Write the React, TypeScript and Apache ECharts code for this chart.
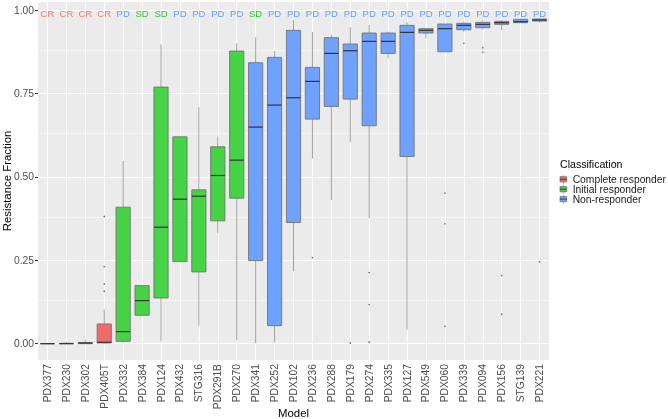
import React, { useEffect, useRef } from "react";
import * as echarts from "echarts";

const categories = [
  "PDX377", "PDX230", "PDX302", "PDX405T", "PDX332", "PDX384", "PDX124", "PDX432", "STG316",
  "PDX291B", "PDX270", "PDX341", "PDX252", "PDX102", "PDX236", "PDX288", "PDX179", "PDX274",
  "PDX335", "PDX127", "PDX549", "PDX060", "PDX339", "PDX094", "PDX156", "STG139", "PDX221",
];

const classification = [
  "Complete responder", "Complete responder", "Complete responder", "Complete responder",
  "Initial responder", "Initial responder", "Initial responder", "Initial responder",
  "Initial responder", "Initial responder", "Initial responder",
  "Non-responder", "Non-responder", "Non-responder", "Non-responder", "Non-responder",
  "Non-responder", "Non-responder", "Non-responder", "Non-responder", "Non-responder",
  "Non-responder", "Non-responder", "Non-responder", "Non-responder", "Non-responder",
  "Non-responder",
];

const responseLabels = [
  "CR", "CR", "CR", "CR", "PD", "SD", "SD", "PD", "PD", "PD", "PD", "SD", "PD", "PD",
  "PD", "PD", "PD", "PD", "PD", "PD", "PD", "PD", "PD", "PD", "PD", "PD", "PD",
];

const whiskerLow = [
  0, 0, 0, 0, 0.003, 0.085, 0.007, 0.246, 0.054, 0.331, 0.01, 0.002, 0.004, 0.217,
  0.555, 0.431, 0.604, 0.376, 0.855, 0.042, 0.915, 0.875, 0.935, 0.942, 0.94, 0.962, 0.962,
];
const q1 = [
  0, 0, 0, 0.002, 0.007, 0.085, 0.137, 0.246, 0.215, 0.368, 0.436, 0.249, 0.054, 0.363,
  0.673, 0.711, 0.733, 0.653, 0.87, 0.561, 0.931, 0.875, 0.941, 0.947, 0.957, 0.962, 0.967,
];
const median = [
  0, 0, 0.002, 0.004, 0.036, 0.129, 0.349, 0.433, 0.442, 0.504, 0.55, 0.649, 0.715, 0.737,
  0.786, 0.87, 0.878, 0.906, 0.906, 0.933, 0.939, 0.944, 0.954, 0.957, 0.962, 0.965, 0.97,
];
const q3 = [
  0, 0.001, 0.003, 0.059, 0.409, 0.174, 0.769, 0.62, 0.461, 0.59, 0.877, 0.842, 0.858, 0.939,
  0.828, 0.917, 0.898, 0.931, 0.931, 0.954, 0.944, 0.958, 0.96, 0.963, 0.966, 0.972, 0.973,
];
const whiskerHigh = [
  0, 0.006, 0.012, 0.102, 0.548, 0.174, 0.897, 0.62, 0.709, 0.621, 0.9, 0.918, 0.877, 0.97,
  0.934, 0.926, 0.948, 0.955, 0.935, 0.964, 0.946, 0.958, 0.965, 0.968, 0.97, 0.974, 0.975,
];

const outlierModels = [
  "PDX405T", "PDX405T", "PDX405T", "PDX405T", "PDX236", "PDX179", "PDX274", "PDX274", "PDX274",
  "PDX060", "PDX060", "PDX060", "PDX339", "PDX094", "PDX094", "PDX156", "PDX156", "PDX221",
];
const outlierValues = [
  0.157, 0.179, 0.231, 0.381, 0.258, 0.002, 0.213, 0.117, 0.005,
  0.451, 0.359, 0.052, 0.9, 0.887, 0.873, 0.204, 0.088, 0.245,
];

const yTicks = [0, 0.25, 0.5, 0.75, 1];
const yMinorGrid = [0.125, 0.375, 0.625, 0.875];

const classNames = ["Complete responder", "Initial responder", "Non-responder"];
const classColors: Record<string, string> = {
  "Complete responder": "#EF6B6B",
  "Initial responder": "#46D346",
  "Non-responder": "#6FA1FF",
};
const labelColors: Record<string, string> = {
  CR: "#F8766D",
  SD: "#2FC52F",
  PD: "#619CFF",
};

const FONT = "'Liberation Sans', Arial, sans-serif";
const LABEL_Y = 0.99;

export default function App() {
  const ref = useRef<HTMLDivElement>(null);

  useEffect(() => {
    if (!ref.current) return;
    const chart = echarts.init(ref.current, undefined, { renderer: "svg" });

    const boxData = categories.map((_, i) => [
      i, whiskerLow[i], q1[i], median[i], q3[i], whiskerHigh[i],
    ]);
    const labelData = categories.map((_, i) => [i, LABEL_Y]);
    const outlierData = outlierModels.map((m, k) => [categories.indexOf(m), outlierValues[k]]);

    const gridLines = [
      ...yTicks.map((v) => ({ yAxis: v, lineStyle: { width: 1.1 } })),
      ...yMinorGrid.map((v) => ({ yAxis: v, lineStyle: { width: 0.55 } })),
      ...categories.map((_, i) => ({ xAxis: i, lineStyle: { width: 1.1 } })),
    ];

    const legendItems: any[] = [];
    classNames.forEach((name, k) => {
      const cy = 179.3 + k * 9.9;
      legendItems.push(
        {
          type: "line",
          shape: { x1: 563.3, y1: cy - 4.5, x2: 563.3, y2: cy + 4.5 },
          style: { stroke: "#9c9c9c", lineWidth: 0.8 },
        },
        {
          type: "rect",
          shape: { x: 560, y: cy - 2.6, width: 6.7, height: 5.2 },
          style: { fill: classColors[name], stroke: "#6a6a6a", lineWidth: 0.7 },
        },
        {
          type: "line",
          shape: { x1: 560, y1: cy, x2: 566.7, y2: cy },
          style: { stroke: "#333333", lineWidth: 0.9 },
        },
        {
          type: "text",
          style: {
            text: name, x: 572.7, y: cy, fill: "#1a1a1a",
            font: `10.3px ${FONT}`, textAlign: "left", textVerticalAlign: "middle",
          },
        }
      );
    });

    chart.setOption({
      animation: false,
      grid: {
        left: 38, right: 119, top: 2, bottom: 59,
        show: true, backgroundColor: "#EBEBEB", borderWidth: 0, containLabel: false,
        outerBoundsMode: "none",
      },
      xAxis: {
        type: "category",
        data: categories,
        boundaryGap: true,
        axisLine: { show: false },
        axisTick: { show: true, alignWithLabel: true, length: 3, lineStyle: { color: "#333333" } },
        axisLabel: {
          rotate: 90, interval: 0, fontSize: 10.3, color: "#4D4D4D", margin: 4, fontFamily: FONT,
        },
        splitLine: { show: false },
        name: "Model",
        nameLocation: "middle",
        nameGap: 47,
        nameMoveOverlap: false,
        nameTextStyle: { fontSize: 11.4, color: "#000000", fontFamily: FONT },
      },
      yAxis: {
        type: "value",
        min: -0.049,
        max: 1.024,
        axisLine: { show: false },
        axisTick: { show: true, length: 3, lineStyle: { color: "#333333" }, customValues: yTicks },
        axisLabel: {
          customValues: yTicks,
          formatter: (v: number) => v.toFixed(2),
          fontSize: 10.3, color: "#4D4D4D", margin: 4, fontFamily: FONT,
        },
        splitLine: { show: false },
        minorSplitLine: { show: false },
        name: "Resistance Fraction",
        nameLocation: "middle",
        nameRotate: 90,
        nameGap: 26,
        nameMoveOverlap: false,
        nameTextStyle: { fontSize: 11.4, color: "#000000", fontFamily: FONT },
      },
      graphic: [
        {
          type: "text",
          style: {
            text: "Classification", x: 560, y: 164, fill: "#000000",
            font: `10.6px ${FONT}`, textAlign: "left", textVerticalAlign: "middle",
          },
        },
        ...legendItems,
      ],
      series: [
        {
          type: "custom",
          name: "boxes",
          z: 10,
          silent: true,
          encode: { x: 0, y: [1, 2, 3, 4, 5] },
          data: boxData,
          renderItem: (params: any, api: any) => {
            const i = api.value(0);
            const xc = api.coord([i, 0])[0];
            const yLow = api.coord([i, api.value(1)])[1];
            const yQ1 = api.coord([i, api.value(2)])[1];
            const yMed = api.coord([i, api.value(3)])[1];
            const yQ3 = api.coord([i, api.value(4)])[1];
            const yHigh = api.coord([i, api.value(5)])[1];
            const w = api.size([1, 0])[0] * 0.75;
            const fill = classColors[classification[i]];
            return {
              type: "group",
              children: [
                {
                  type: "line",
                  shape: { x1: xc, y1: yHigh, x2: xc, y2: yQ3 },
                  style: { stroke: "#a0a0a0", lineWidth: 1 },
                },
                {
                  type: "line",
                  shape: { x1: xc, y1: yQ1, x2: xc, y2: yLow },
                  style: { stroke: "#a0a0a0", lineWidth: 1 },
                },
                {
                  type: "rect",
                  shape: { x: xc - w / 2, y: yQ3, width: w, height: Math.max(yQ1 - yQ3, 0) },
                  style: { fill, stroke: "#737373", lineWidth: 0.9 },
                },
                {
                  type: "line",
                  shape: { x1: xc - w / 2, y1: yMed, x2: xc + w / 2, y2: yMed },
                  style: { stroke: "#333333", lineWidth: 1.2 },
                },
              ],
            };
          },
        },
        {
          type: "custom",
          name: "labels",
          z: 12,
          silent: true,
          encode: { x: 0, y: 1 },
          data: labelData,
          renderItem: (params: any, api: any) => {
            const i = api.value(0);
            const p = api.coord([i, api.value(1)]);
            const t = responseLabels[i];
            return {
              type: "text",
              style: {
                text: t, x: p[0], y: p[1], fill: labelColors[t],
                font: `9.5px ${FONT}`, textAlign: "center", textVerticalAlign: "middle",
              },
            };
          },
        },
        {
          type: "scatter",
          name: "outliers",
          z: 11,
          silent: true,
          symbolSize: 1.6,
          itemStyle: { color: "#4d4d4d" },
          data: outlierData,
          markLine: {
            silent: true,
            z: 1,
            symbol: ["none", "none"],
            label: { show: false },
            emphasis: { disabled: true },
            animation: false,
            lineStyle: { color: "#ffffff", type: "solid" },
            data: gridLines,
          },
        },
      ],
    });

    return () => chart.dispose();
  }, []);

  return (
    <div
      ref={ref}
      style={{ position: "fixed", left: 0, top: 0, width: 668, height: 419 }}
    />
  );
}
